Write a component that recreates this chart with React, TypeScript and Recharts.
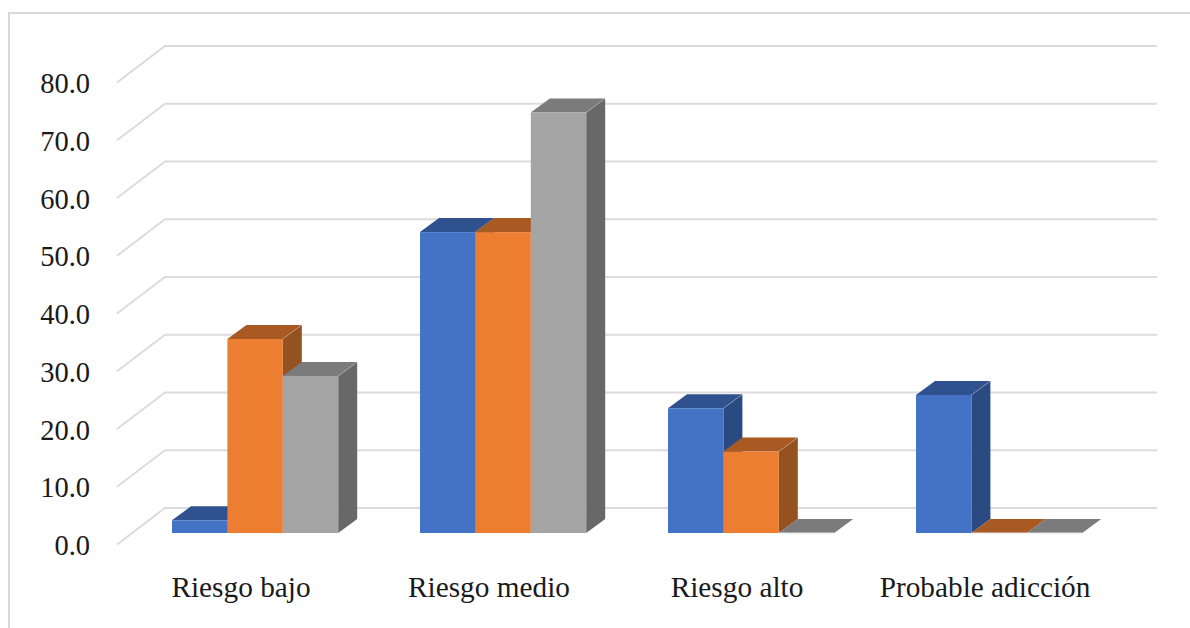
import React from "react";
import { BarChart, Bar, XAxis, YAxis, CartesianGrid } from "recharts";

const categories = ["Riesgo bajo", "Riesgo medio", "Riesgo alto", "Probable adicción"];
const serieA = [2.2, 52.1, 21.6, 23.9];
const serieB = [33.6, 52.1, 14.1, 0];
const serieC = [27.2, 72.8, 0, 0];
const yTicks = [0, 10, 20, 30, 40, 50, 60, 70, 80];

const data = categories.map((name, i) => ({ name, a: serieA[i], b: serieB[i], c: serieC[i] }));

const DX = 19;
const DY = 14;
const FONT = '"Liberation Serif", "Times New Roman", serif';

const box3d = (front: string, top: string, side: string) => (p: any) => {
  const { x, y, width, height } = p;
  const h = Math.max(height || 0, 0);
  return (
    <g>
      <polygon points={`${x},${y} ${x + DX},${y - DY} ${x + width + DX},${y - DY} ${x + width},${y}`} fill={top} />
      {h > 0 && (
        <polygon
          points={`${x + width},${y} ${x + width + DX},${y - DY} ${x + width + DX},${y + h - DY} ${x + width},${y + h}`}
          fill={side}
        />
      )}
      {h > 0 ? (
        <rect x={x} y={y} width={width} height={h} fill={front} />
      ) : (
        <line x1={x} y1={y} x2={x + width} y2={y} stroke="#E3E3E3" strokeWidth={1} />
      )}
      {h > 0 && (
        <line x1={x + width} y1={y} x2={x + width + DX} y2={y - DY} stroke="#ffffff" strokeOpacity={0.25} strokeWidth={1} />
      )}
    </g>
  );
};

const wallLine = (p: any) => {
  const y = p.y1;
  return (
    <polyline
      key={p.key ?? y}
      points={`117,${y + 11.5} 165,${y - 25} 1157,${y - 25}`}
      fill="none"
      stroke="#DCDCDC"
      strokeWidth={2}
    />
  );
};

const YTick = (p: any) => (
  <text x={90} y={p.y + 22} textAnchor="end" fontFamily={FONT} fontSize={28.5} fill="#1a1a1a">
    {Number(p.payload.value).toFixed(1)}
  </text>
);

const XTick = (p: any) => (
  <text x={p.x - 14} y={597} textAnchor="middle" fontFamily={FONT} fontSize={29.3} fill="#1a1a1a">
    {p.payload.value}
  </text>
);

export default function App() {
  return (
    <div style={{ position: "absolute", left: 0, top: 0, width: 1190, height: 628, background: "#fff", overflow: "hidden" }}>
      <div
        style={{
          position: "absolute",
          left: 8,
          top: 12,
          width: 1200,
          height: 640,
          borderLeft: "2px solid #D9D9D9",
          borderTop: "2px solid #D9D9D9",
          boxSizing: "border-box",
        }}
      />
      <div style={{ position: "absolute", left: 0, top: 0 }}>
        <BarChart
          width={1190}
          height={628}
          data={data}
          margin={{ left: 31, right: 67, top: 71, bottom: 35 }}
          barSize={55.4}
          barGap={0}
        >
          <CartesianGrid vertical={false} horizontal={wallLine} />
          <XAxis dataKey="name" axisLine={false} tickLine={false} height={60} tick={XTick} interval={0} />
          <YAxis domain={[0, 80]} ticks={yTicks} axisLine={false} tickLine={false} width={100} tick={YTick} />
          <Bar dataKey="a" isAnimationActive={false} shape={box3d("#4472C4", "#2F528F", "#2B4A82")} />
          <Bar dataKey="b" isAnimationActive={false} shape={box3d("#ED7D31", "#A85A22", "#93521F")} />
          <Bar dataKey="c" isAnimationActive={false} shape={box3d("#A5A5A5", "#7B7B7B", "#686868")} />
        </BarChart>
      </div>
    </div>
  );
}
